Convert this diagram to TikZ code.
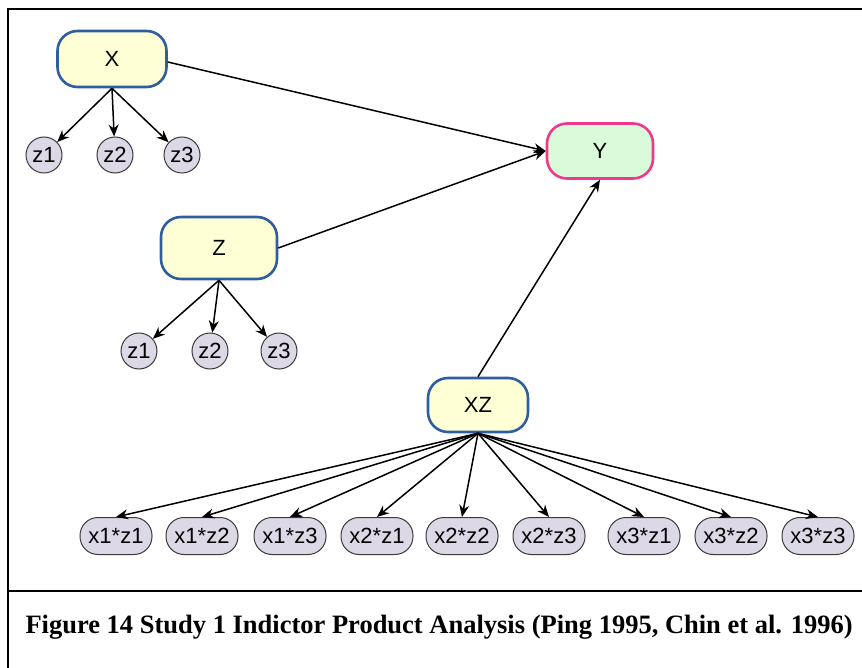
\documentclass[tikz,border=0pt]{standalone}
\usepackage{fontspec}
\setmainfont{Liberation Sans}
\newfontfamily\capfont{Liberation Serif}
\usetikzlibrary{arrows.meta}
\definecolor{latfill}{HTML}{FFFFD6}
\definecolor{latedge}{HTML}{2E5E9E}
\definecolor{yfill}{HTML}{D9FBD9}
\definecolor{yedge}{HTML}{F0388C}
\definecolor{indfill}{HTML}{DCD8E6}
\definecolor{indedge}{HTML}{3A3A3A}
\tikzset{
  nodetext/.style={font=\fontsize{22}{24}\selectfont},
  latent/.style={draw=latedge, fill=latfill, line width=2.6pt, rounded corners=20pt,
    minimum width=#1, minimum height=56pt, inner sep=0pt, nodetext},
  outcome/.style={draw=yedge, fill=yfill, line width=2.6pt, rounded corners=20pt,
    minimum width=106pt, minimum height=55pt, inner sep=0pt, nodetext},
  indcircle/.style={circle, draw=indedge, fill=indfill, line width=1pt,
    minimum size=36pt, inner sep=0pt, nodetext},
  indpill/.style={draw=indedge, fill=indfill, line width=1pt, rounded corners=18pt,
    minimum width=72pt, minimum height=37pt, inner sep=0pt, nodetext},
  link/.style={line width=1.5pt, -{Stealth[length=12pt,width=10pt]}},
  frame/.style={line width=2.5pt}
}
\begin{document}
\begin{tikzpicture}[x=1pt,y=-1pt]
\useasboundingbox (0,0) rectangle (862,668);

% frame
\draw[frame] (862,9) -- (8,9) -- (8,668);
\draw[frame] (8,591) -- (862,591);

% latent variables
\node[latent=109pt] (X) at (112,59) {X};
\node[latent=116pt, minimum height=62pt] (Z) at (219,248) {Z};
\node[latent=100pt, minimum height=54pt] (XZ) at (478,405) {XZ};
\node[outcome] (Y) at (600,151) {Y};

% indicators of X
\node[indcircle] (xa) at (44,155) {z1};
\node[indcircle] (xb) at (115,155) {z2};
\node[indcircle] (xc) at (182,155) {z3};

% indicators of Z
\node[indcircle] (za) at (139,351) {z1};
\node[indcircle] (zb) at (210,351) {z2};
\node[indcircle] (zc) at (279,351) {z3};

% product indicators
\node[indpill] (p11) at (116,536) {x1*z1};
\node[indpill] (p12) at (202,536) {x1*z2};
\node[indpill] (p13) at (290,536) {x1*z3};
\node[indpill] (p21) at (377,536) {x2*z1};
\node[indpill] (p22) at (462,536) {x2*z2};
\node[indpill] (p23) at (549,536) {x2*z3};
\node[indpill] (p31) at (644,536) {x3*z1};
\node[indpill] (p32) at (731,536) {x3*z2};
\node[indpill] (p33) at (818,536) {x3*z3};

% structural paths
\draw[link] (X.east) ++(0,3) -- (Y.west);
\draw[link] (Z.east) -- (Y.west);
\draw[link] (XZ.north) -- (Y.south);

% measurement paths
\foreach \t in {xa,xb,xc} \draw[link] (X.south) -- (\t);
\foreach \t in {za,zb,zc} \draw[link] (Z.south) -- (\t);
\foreach \t in {p11,p12,p13,p21,p22,p23,p31,p32,p33}
  \draw[link] (XZ.south) -- (\t.north);

% caption
\node[font=\capfont\bfseries\fontsize{26.5}{30}\selectfont, anchor=west] (cap) at (22,627)
  {Figure 14 Study 1 Indictor Product Analysis (Ping 1995, Chin et al. 1996)};
\end{tikzpicture}
\end{document}
